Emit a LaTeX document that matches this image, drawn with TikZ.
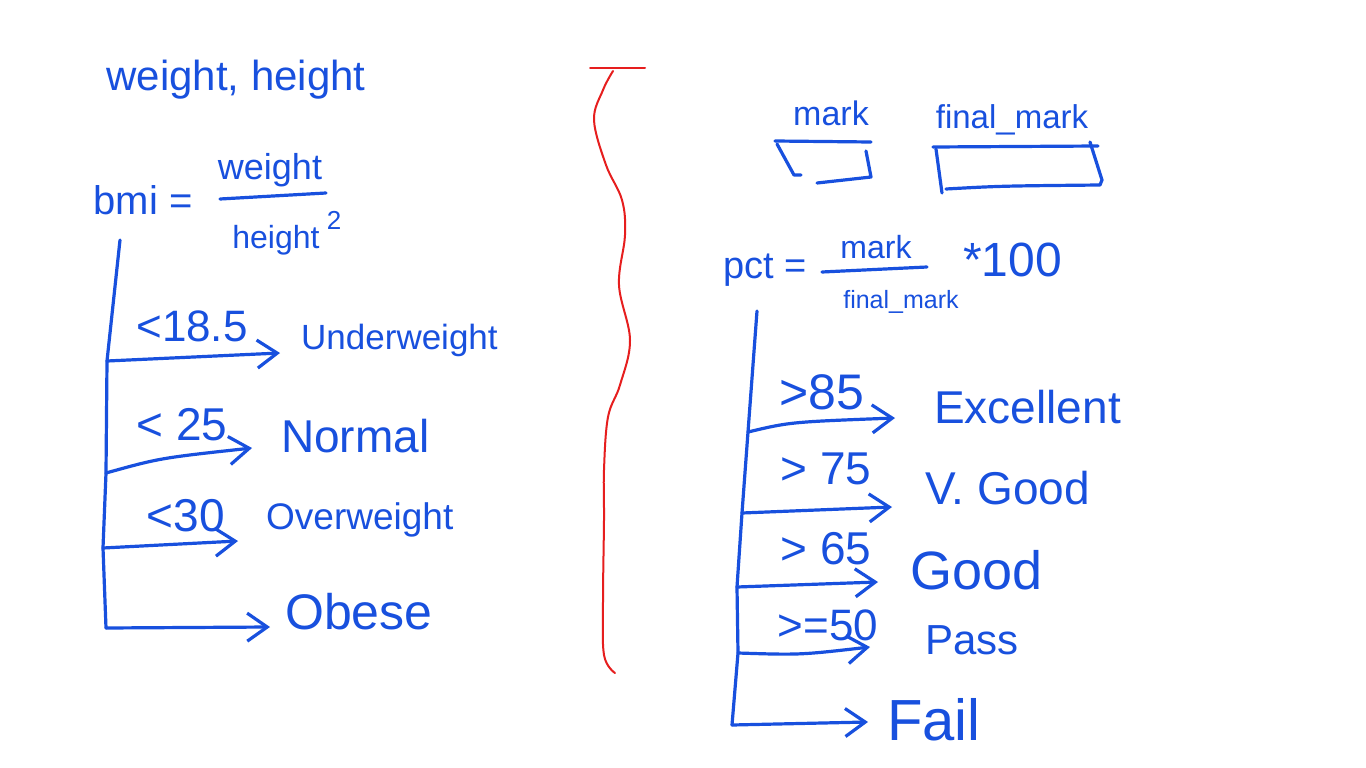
\documentclass[tikz,border=0pt]{standalone}
\usepackage{fontspec}
\setmainfont{Liberation Sans}
\usetikzlibrary{arrows.meta}
\definecolor{ink}{RGB}{24,80,222}
\definecolor{redink}{RGB}{230,30,30}
\tikzset{
  pen/.style={draw=ink, line width=3.2pt, line cap=round, line join=round},
  arr/.style={pen, -{Straight Barb[length=20pt,width=28pt]}},
  txt/.style={text=ink, inner sep=1pt},
}
\newcommand{\fs}[1]{\fontsize{#1}{#1}\selectfont}
\begin{document}
\begin{tikzpicture}[x=1pt,y=-1pt]
\useasboundingbox[fill=white] (0,0) rectangle (1366,768);

% ---------------- left side ----------------
\node[txt, font=\fs{42}] (vars) at (236,80) {weight, height};
\node[txt, font=\fs{40}] (bmi) at (143,200) {bmi =};
\node[txt, font=\fs{36}] (bnum) at (270,170) {weight};
\node[txt, font=\fs{32}] (bden) at (276,240) {height};
\node[txt, font=\fs{26}] (bsq) at (334,220) {2};
\coordinate (fl1) at (220,199);
\coordinate (fl2) at (326,193);
\draw[pen] (fl1) -- (fl2);

\coordinate (L0) at (120,240);
\coordinate (L1) at (107,361);
\coordinate (L2) at (106,473);
\coordinate (L3) at (103,548);
\coordinate (L4) at (106,628);
\draw[pen] (L0) -- (L1) -- (L2) -- (L3) -- (L4);

\coordinate (E1) at (280,353);
\coordinate (E2) at (252,448);
\coordinate (E3) at (238,541);
\coordinate (E4) at (270,627);
\draw[arr] (L1) -- (E1);
\draw[arr] (L2) .. controls (160,458) .. (E2);
\draw[arr] (L3) -- (E3);
\draw[arr] (L4) -- (E4);

\node[txt, font=\fs{44}] (c1) at (192,326) {<18.5};
\node[txt, font=\fs{46}] (c2) at (182,425) {< 25};
\node[txt, font=\fs{46}] (c3) at (186,516) {<30};

\node[txt, font=\fs{35}, anchor=west] (uw) at (300,340) {Underweight};
\node[txt, font=\fs{46}, anchor=west] (nm) at (280,436) {Normal};
\node[txt, font=\fs{37}, anchor=west] (ow) at (265,520) {Overweight};
\node[txt, font=\fs{50}, anchor=west] (ob) at (284,612) {Obese};

% ---------------- red divider ----------------
\draw[draw=redink, line width=2pt, line cap=round] (590,68) -- (645,68);
\draw[draw=redink, line width=2pt, line cap=round]
  plot[smooth, tension=0.6] coordinates {(613,71) (603,90) (594,120) (606,165) (622,200) (625,235) (619,285) (630,340) (620,385) (608,417) (604,470) (604,520) (603,600) (604,655) (615,673)};

% ---------------- right side ----------------
\node[txt, font=\fs{34}] (mk) at (831,113) {mark};
\draw[pen] (775,141) -- (871,142);
\draw[pen] (777,144) -- (794,175) -- (801,175);
\draw[pen] (866,151) -- (871,177) -- (817,183);

\node[txt, font=\fs{33}] (fm) at (1012,120) {final\_mark};
\draw[pen] (933,147) -- (1098,146);
\draw[pen] (936,149) -- (942,193);
\draw[pen] (946,189) .. controls (1000,186) .. (1100,185) -- (1102,180) -- (1090,142);

\node[txt, font=\fs{38}] (pct) at (765,270) {pct =};
\node[txt, font=\fs{32}] (pnum) at (876,247) {mark};
\node[txt, font=\fs{25}] (pden) at (901,302) {final\_mark};
\node[txt, font=\fs{48}, anchor=west] (hund) at (962,260) {*100};
\coordinate (pf1) at (822,272);
\coordinate (pf2) at (927,267);
\draw[pen] (pf1) -- (pf2);

\coordinate (R0) at (757,311);
\coordinate (R1) at (748,432);
\coordinate (R2) at (742,513);
\coordinate (R3) at (737,587);
\coordinate (R4) at (738,653);
\coordinate (R5) at (732,725);
\draw[pen] (R0) -- (R1) -- (R2) -- (R3) -- (R4) -- (R5);

\coordinate (S1) at (895,418);
\coordinate (S2) at (892,507);
\coordinate (S3) at (878,582);
\coordinate (S4) at (870,647);
\coordinate (S5) at (868,722);
\draw[arr] (R1) .. controls (790,422) .. (S1);
\draw[arr] (R2) -- (S2);
\draw[arr] (R3) -- (S3);
\draw[arr] (R4) .. controls (800,655) .. (S4);
\draw[arr] (R5) -- (S5);

\node[txt, font=\fs{50}] (g1) at (822,392) {>85};
\node[txt, font=\fs{46}] (g2) at (826,469) {> 75};
\node[txt, font=\fs{46}] (g3) at (826,549) {> 65};
\node[txt, font=\fs{44}] (g4) at (828,625) {>=50};

\node[txt, font=\fs{46}, anchor=west] (ex) at (933,407) {Excellent};
\node[txt, font=\fs{46}, anchor=west] (vg) at (924,488) {V. Good};
\node[txt, font=\fs{54}, anchor=west] (gd) at (909,570) {Good};
\node[txt, font=\fs{42}, anchor=west] (ps) at (924,640) {Pass};
\node[txt, font=\fs{58}, anchor=west] (fl) at (886,720) {Fail};
\end{tikzpicture}
\end{document}
